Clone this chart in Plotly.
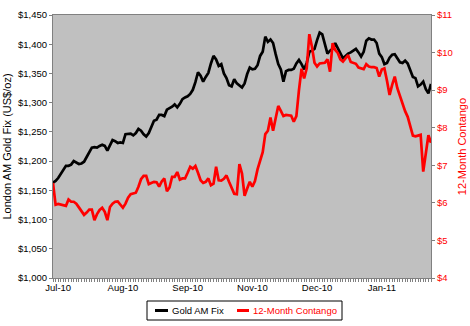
import pandas as pd
import plotly.graph_objects as go

# London AM gold fix (US$/oz) and 12-month contango (US$), one value per trading day
GOLD_AM_FIX = [
    1163, 1166, 1171, 1178, 1186, 1192, 1192, 1194, 1200, 1197,
    1195, 1196, 1199, 1207, 1216, 1223, 1224, 1223, 1226, 1228,
    1226, 1218, 1227, 1236, 1234, 1231, 1232, 1231, 1246, 1247,
    1247, 1244, 1248, 1255, 1252, 1246, 1242, 1248, 1260, 1269,
    1271, 1279, 1279, 1277, 1288, 1290, 1293, 1297, 1292, 1298,
    1306, 1309, 1311, 1315, 1322, 1335, 1352, 1346, 1336, 1344,
    1351, 1367, 1380, 1374, 1363, 1366, 1350, 1342, 1330, 1328,
    1340, 1333, 1330, 1326, 1333, 1349, 1360, 1357, 1358, 1364,
    1380, 1387, 1413, 1404, 1408, 1402, 1383, 1366, 1357, 1336,
    1354, 1356, 1356, 1358, 1367, 1373, 1366, 1357, 1368, 1387,
    1389, 1392, 1407, 1420, 1417, 1399, 1384, 1389, 1392, 1402,
    1393, 1383, 1376, 1380, 1384, 1386, 1389, 1392, 1386, 1379,
    1387, 1406, 1410, 1408, 1408, 1402, 1384, 1378, 1366, 1368,
    1377, 1382, 1383, 1377, 1369, 1368, 1372, 1367, 1356, 1344,
    1342, 1328, 1331, 1336, 1323, 1316, 1332,
]

CONTANGO_12M = [
    6.53, 5.95, 5.97, 5.95, 5.93, 5.92, 6.09, 6.03, 6.03, 5.98,
    5.88, 5.76, 5.68, 5.74, 5.82, 5.82, 5.54, 5.70, 5.81, 5.87,
    5.76, 5.54, 5.89, 5.98, 6.03, 6.04, 5.96, 5.87, 5.98, 6.14,
    6.23, 6.24, 6.27, 6.43, 6.63, 6.72, 6.72, 6.50, 6.53, 6.56,
    6.55, 6.43, 6.57, 6.65, 6.31, 6.41, 6.69, 6.69, 6.82, 6.62,
    6.65, 6.65, 6.80, 6.96, 6.91, 6.98, 6.80, 6.60, 6.53, 6.56,
    6.65, 6.47, 6.51, 6.96, 6.60, 6.59, 6.64, 6.73, 6.56, 6.41,
    6.24, 6.23, 7.03, 6.78, 6.19, 6.38, 6.56, 6.43, 6.58, 6.89,
    7.14, 7.35, 7.83, 7.92, 8.27, 7.92, 8.25, 8.58, 8.45, 8.31,
    8.34, 8.34, 8.32, 8.16, 8.31, 9.00, 9.57, 9.31, 9.58, 10.49,
    10.16, 9.73, 9.63, 9.71, 9.71, 9.73, 9.82, 9.49, 10.25, 10.07,
    9.99, 9.82, 9.76, 9.85, 9.93, 9.75, 9.73, 9.70, 9.60, 9.57,
    9.56, 9.69, 9.63, 9.61, 9.61, 9.59, 9.36, 9.55, 9.58, 9.25,
    8.87, 9.14, 9.36, 9.05, 8.85, 8.60, 8.44, 8.29, 8.02, 7.79,
    7.77, 7.78, 7.81, 6.83, 7.31, 7.80, 7.60,
]

TICK_LABELS = ["Jul-10", "Aug-10", "Sep-10", "Nov-10", "Dec-10", "Jan-11"]
TICK_DAY_INDEX = [2, 27, 52, 77, 102, 127]

trading_days = pd.bdate_range("2010-07-19", periods=len(GOLD_AM_FIX))
day_index = list(range(len(GOLD_AM_FIX)))
day_text = [d.strftime("%d %b %Y") for d in trading_days]

FONT = "Liberation Sans, Arial, sans-serif"
AXIS_GREY = "#808080"
GOLD_NAME = "Gold AM Fix"
CONTANGO_NAME = "12-Month Contango"

fig = go.Figure()
fig.add_trace(go.Scatter(
    x=day_index, y=GOLD_AM_FIX, name=GOLD_NAME, mode="lines",
    line=dict(color="#000000", width=2.7), text=day_text,
    hovertemplate="%{text}<br>$%{y:,.0f}<extra></extra>",
))
fig.add_trace(go.Scatter(
    x=day_index, y=CONTANGO_12M, name=CONTANGO_NAME, mode="lines",
    line=dict(color="#FF0000", width=2.7), yaxis="y2", text=day_text,
    hovertemplate="%{text}<br>$%{y:.2f}<extra></extra>",
))

# hand-built legend box below the plot area
def px_x(p):
    return (p - 53) / 378.0

def px_y(p):
    return (278 - p) / 263.0

legend_y = px_y(310.5)
shapes = [
    dict(type="rect", xref="paper", yref="paper",
         x0=px_x(147), x1=px_x(342), y0=px_y(320), y1=px_y(301),
         line=dict(color="#000000", width=1), fillcolor="#FFFFFF", layer="above"),
    dict(type="line", xref="paper", yref="paper",
         x0=px_x(155), x1=px_x(168), y0=legend_y, y1=legend_y,
         line=dict(color="#000000", width=3)),
    dict(type="line", xref="paper", yref="paper",
         x0=px_x(237), x1=px_x(249), y0=legend_y, y1=legend_y,
         line=dict(color="#FF0000", width=3)),
]
annotations = [
    dict(xref="paper", yref="paper", x=px_x(170), y=legend_y, text=GOLD_NAME,
         xanchor="left", yanchor="middle", showarrow=False,
         font=dict(family=FONT, size=9.5, color="#000000")),
    dict(xref="paper", yref="paper", x=px_x(251), y=legend_y, text=CONTANGO_NAME,
         xanchor="left", yanchor="middle", showarrow=False,
         font=dict(family=FONT, size=9.5, color="#FF0000")),
]

fig.update_layout(
    width=470, height=326,
    margin=dict(l=53, r=39, t=15, b=48),
    paper_bgcolor="#FFFFFF",
    plot_bgcolor="#C0C0C0",
    font=dict(family=FONT, size=9.5, color="#000000"),
    showlegend=False,
    shapes=shapes,
    annotations=annotations,
    xaxis=dict(
        range=[0, len(GOLD_AM_FIX) - 1], automargin=False,
        tickmode="array", tickvals=TICK_DAY_INDEX, ticktext=TICK_LABELS,
        ticks="outside", ticklen=3, tickcolor=AXIS_GREY,
        ticklabelstandoff=-2,
        minor=dict(tickmode="linear", tick0=0, dtick=1, ticks="outside",
                   ticklen=3, tickcolor=AXIS_GREY),
        showline=True, linecolor=AXIS_GREY, linewidth=1, mirror=True,
        showgrid=False, zeroline=False,
        tickfont=dict(family=FONT, size=9.5, color="#000000"),
    ),
    yaxis=dict(
        range=[1000, 1450], dtick=50, tickformat="$,.0f", automargin=False,
        ticks="outside", ticklen=3, tickcolor=AXIS_GREY,
        showline=True, linecolor=AXIS_GREY, linewidth=1,
        showgrid=False, zeroline=False,
        tickfont=dict(family=FONT, size=9.5, color="#000000"),
        title=dict(text="London AM Gold Fix (US$/oz)", standoff=4,
                   font=dict(family=FONT, size=11, color="#000000")),
    ),
    yaxis2=dict(
        range=[4, 11], dtick=1, tickformat="$.0f", automargin=False,
        overlaying="y", side="right",
        ticks="outside", ticklen=3, tickcolor=AXIS_GREY,
        showline=True, linecolor=AXIS_GREY, linewidth=1,
        showgrid=False, zeroline=False,
        tickfont=dict(family=FONT, size=9.5, color="#FF0000"),
        title=dict(text="12-Month Contango", standoff=6,
                   font=dict(family=FONT, size=11, color="#FF0000")),
    ),
)

fig.write_html("out.html")
